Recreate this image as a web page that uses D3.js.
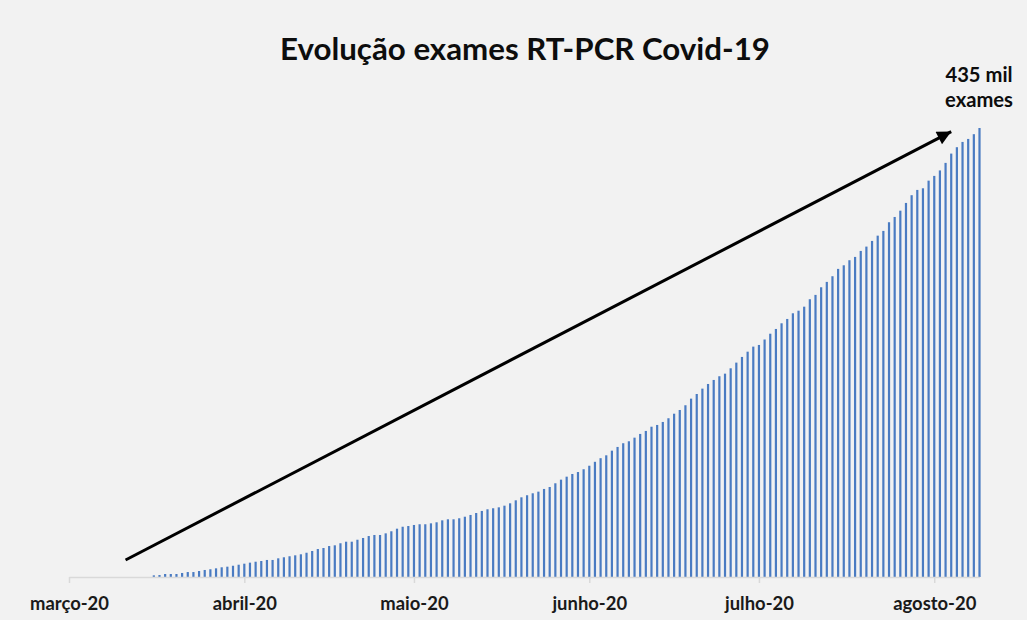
<!DOCTYPE html>
<html><head><meta charset="utf-8">
<script src="https://cdn.jsdelivr.net/npm/d3@7"></script>
<style>html,body{margin:0;padding:0;background:#f2f2f2;} svg{display:block;}</style>
</head><body><svg id="c" width="1027" height="620"></svg>
<script>
const title = "Evolução exames RT-PCR Covid-19";
const firstDate = "2020-03-16";
// cumulative RT-PCR exams, thousands, one per day from firstDate
const values = [
 1.6, 1.9, 2.9, 2.9, 2.9, 3.9, 4.8, 4.8, 5.8, 6.8, 7.5, 8.4, 9.4, 10.0, 10.9, 11.9,
 12.9, 13.9, 14.8, 15.5, 16.5, 16.5, 18.1, 19.1, 20.1, 21.0, 22.0, 23.5, 25.2, 27.1, 28.1,
 30.0, 30.7, 32.7, 34.2, 34.2, 36.1, 37.8, 39.7, 40.7, 40.7, 42.3, 44.3, 46.8, 48.7, 49.4,
 50.4, 51.1, 51.1, 52.0, 53.0, 54.9, 55.9, 55.9, 56.9, 58.4, 60.1, 62.0, 64.0, 65.6, 66.6,
 67.5, 69.1, 71.4, 74.3, 77.2, 79.2, 81.1, 82.7, 85.3, 87.2, 90.8, 94.3, 97.2, 99.8, 101.7,
 104.4, 107.8, 111.6, 115.1, 117.9, 122.4, 126.0, 129.6, 131.5, 135.0, 138.6, 141.5, 145.6,
 147.3, 150.2, 153.8, 158.2, 161.8, 166.4, 172.8, 177.3, 182.5, 187.0, 190.9, 194.5, 197.0,
 202.2, 207.7, 213.2, 218.3, 223.2, 224.8, 230.1, 235.7, 240.3, 245.8, 250.0, 255.5, 258.0,
 261.9, 269.1, 273.3, 280.7, 285.9, 291.4, 298.5, 302.0, 306.9, 310.1, 315.9, 320.1, 325.6,
 330.7, 335.3, 343.7, 348.8, 354.9, 362.4, 369.9, 375.0, 376.6, 384.0, 388.6, 393.9, 401.2,
 410.2, 416.4, 421.5, 424.4, 429.0, 435.0
];
const axisDomain = ["2020-03-01", "2020-08-09"];
const monthTicks = ["2020-03-01","2020-04-01","2020-05-01","2020-06-01","2020-07-01","2020-08-01"];
const monthLabels = ["março-20","abril-20","maio-20","junho-20","julho-20","agosto-20"];
const annotationLines = ["435 mil", "exames"];
const arrowFrom = {date: "2020-03-11", value: 16.5};
const arrowTo = {date: "2020-08-04", value: 431.5};
const yMax = 435;

const parse = d3.utcParse("%Y-%m-%d");
const svg = d3.select("#c");
const W = 1027, H = 620;
svg.append("rect").attr("width", W).attr("height", H).attr("fill", "#f2f2f2");

const x = d3.scaleUtc().domain(axisDomain.map(parse)).range([69, 979.5]);
const y = d3.scaleLinear().domain([0, yMax]).range([577, 128]);

const start = parse(firstDate);
const data = values.map((v, i) => ({date: d3.utcDay.offset(start, i), value: v}));

const FONT = "Lato, 'Open Sans', sans-serif";

function fit(sel, target) {
  const w = sel.node().getComputedTextLength();
  const fs = parseFloat(sel.attr("font-size"));
  return fs * target / w;
}

// title
const t = svg.append("text").attr("x", 525).attr("y", 60).attr("text-anchor", "middle")
  .attr("font-family", FONT).attr("font-weight", "bold").attr("font-size", 30)
  .attr("fill", "#0d0d0d").text(title);
t.attr("font-size", fit(t, 490));

// bars
svg.append("g").selectAll("rect").data(data).join("rect")
  .attr("x", d => x(d.date) - 1.1)
  .attr("width", 2.2)
  .attr("y", d => y(d.value))
  .attr("height", d => y(0) - y(d.value))
  .attr("fill", "#4a7bc2");

// axis
const axis = d3.axisBottom(x)
  .tickValues(monthTicks.map(parse))
  .tickFormat((d, i) => monthLabels[i])
  .tickSize(6).tickSizeOuter(0);
const g = svg.append("g").attr("transform", `translate(0,${y(0)})`).call(axis);
g.select(".domain").attr("stroke", "#d9d9d9").attr("stroke-width", 1.5);
g.selectAll(".tick line").attr("stroke", "#d9d9d9").attr("stroke-width", 1.5);
const labels = g.selectAll(".tick text")
  .attr("font-family", FONT).attr("font-weight", "bold").attr("font-size", 18)
  .attr("fill", "#1a1a1a").attr("y", 33).attr("dy", 0);
const fsLab = fit(d3.select(labels.nodes()[0]), 79);
labels.attr("font-size", fsLab);

// arrow
const defs = svg.append("defs");
defs.append("marker").attr("id", "ah").attr("viewBox", "0 0 10 10")
  .attr("refX", 10).attr("refY", 5).attr("markerWidth", 16).attr("markerHeight", 14)
  .attr("markerUnits", "userSpaceOnUse").attr("orient", "auto")
  .append("path").attr("d", "M0,0 L10,5 L0,10 Z").attr("fill", "#000");
svg.append("line")
  .attr("x1", x(parse(arrowFrom.date))).attr("y1", y(arrowFrom.value))
  .attr("x2", x(parse(arrowTo.date))).attr("y2", y(arrowTo.value))
  .attr("stroke", "#000").attr("stroke-width", 3).attr("marker-end", "url(#ah)");

// annotation
const ann = svg.append("g").attr("font-family", FONT).attr("font-weight", "bold")
  .attr("fill", "#0d0d0d").attr("text-anchor", "middle");
const lineY = [82, 107];
const annT = annotationLines.map((s, i) => ann.append("text")
  .attr("x", 979).attr("y", lineY[i]).attr("font-size", 18).text(s));
const fsAnn = fit(annT[1], 68);
annT.forEach(s => s.attr("font-size", fsAnn));
</script></body></html>
